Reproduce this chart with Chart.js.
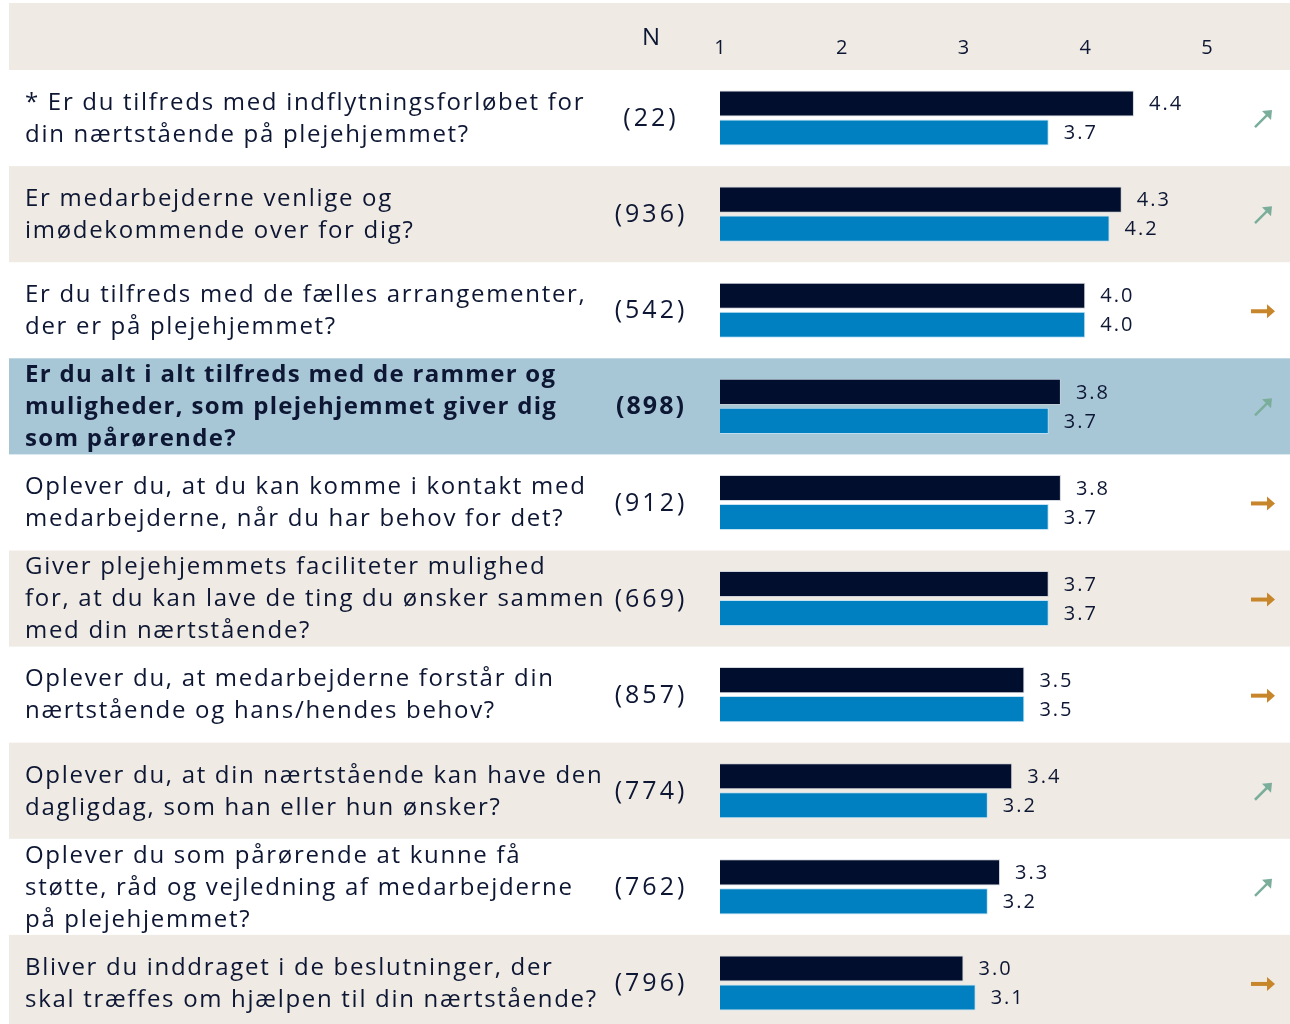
<!DOCTYPE html>
<html>
<head>
<meta charset="utf-8">
<script src="https://cdn.jsdelivr.net/npm/chart.js@4.4.1/dist/chart.umd.min.js"></script>
<style>
html, body { margin: 0; padding: 0; background: #fff; overflow: hidden; }
#wrap { width: 1290px; height: 1031px; position: relative; }
</style>
</head>
<body>
<div id="wrap"><canvas id="myChart"></canvas></div>
<script>
const questions = [
    ["* Er du tilfreds med indflytningsforløbet for", "din nærtstående på plejehjemmet?"],
    ["Er medarbejderne venlige og", "imødekommende over for dig?"],
    ["Er du tilfreds med de fælles arrangementer,", "der er på plejehjemmet?"],
    ["Er du alt i alt tilfreds med de rammer og", "muligheder, som plejehjemmet giver dig", "som pårørende?"],
    ["Oplever du, at du kan komme i kontakt med", "medarbejderne, når du har behov for det?"],
    ["Giver plejehjemmets faciliteter mulighed", "for, at du kan lave de ting du ønsker sammen", "med din nærtstående?"],
    ["Oplever du, at medarbejderne forstår din", "nærtstående og hans/hendes behov?"],
    ["Oplever du, at din nærtstående kan have den", "dagligdag, som han eller hun ønsker?"],
    ["Oplever du som pårørende at kunne få", "støtte, råd og vejledning af medarbejderne", "på plejehjemmet?"],
    ["Bliver du inddraget i de beslutninger, der", "skal træffes om hjælpen til din nærtstående?"]
];
const counts     = [22, 936, 542, 898, 912, 669, 857, 774, 762, 796];
const seriesDark = [4.4, 4.3, 4.0, 3.8, 3.8, 3.7, 3.5, 3.4, 3.3, 3.0];
const seriesBlue = [3.7, 4.2, 4.0, 3.7, 3.7, 3.7, 3.5, 3.2, 3.2, 3.1];
const trends     = ["up", "up", "flat", "up", "flat", "flat", "flat", "up", "up", "flat"];
const highlightRow = 3;
const tickLabels = ["1", "2", "3", "4", "5"];

const NAVY = '#010e2d';
const BLUE = '#0080c0';
const TEXT = '#0d1633';
const BEIGE = '#efebe4';
const HIGHLIGHT = '#a7c7d7';
const GREEN = '#7aae9b';
const ORANGE = '#c8862b';
const FONT = '"Open Sans", sans-serif';

const rowBands = {
    id: 'rowBands',
    beforeDraw(chart) {
        const ctx = chart.ctx;
        const y = chart.scales.y;
        const step = (y.bottom - y.top) / questions.length;
        ctx.save();
        ctx.fillStyle = BEIGE;
        ctx.fillRect(9, 3, chart.width - 9, y.top - 3);
        questions.forEach((_, i) => {
            let col = null;
            if (i === highlightRow) col = HIGHLIGHT;
            else if (i % 2 === 1) col = BEIGE;
            if (!col) return;
            const c = y.getPixelForValue(i);
            ctx.fillStyle = col;
            ctx.fillRect(9, c - step / 2, chart.width - 9, step);
        });
        ctx.restore();
    }
};

function drawArrow(ctx, kind, cx, cy) {
    ctx.save();
    if (kind === 'up') {
        ctx.strokeStyle = GREEN;
        ctx.fillStyle = GREEN;
        ctx.lineWidth = 2.5;
        ctx.beginPath();
        ctx.moveTo(cx - 8, cy + 8);
        ctx.lineTo(cx + 4, cy - 4);
        ctx.stroke();
        ctx.beginPath();
        ctx.moveTo(cx + 9, cy - 9);
        ctx.lineTo(cx - 1, cy - 8);
        ctx.lineTo(cx + 8, cy + 1);
        ctx.closePath();
        ctx.fill();
    } else {
        ctx.strokeStyle = ORANGE;
        ctx.fillStyle = ORANGE;
        ctx.lineWidth = 4;
        ctx.beginPath();
        ctx.moveTo(cx - 12, cy);
        ctx.lineTo(cx + 5, cy);
        ctx.stroke();
        ctx.beginPath();
        ctx.moveTo(cx + 12, cy);
        ctx.lineTo(cx + 4, cy - 7);
        ctx.lineTo(cx + 4, cy + 7);
        ctx.closePath();
        ctx.fill();
    }
    ctx.restore();
}

const rowText = {
    id: 'rowText',
    afterDraw(chart) {
        const ctx = chart.ctx;
        const y = chart.scales.y;
        ctx.save();
        ctx.fillStyle = TEXT;
        ctx.textBaseline = 'middle';

        ctx.font = '24px ' + FONT;
        ctx.letterSpacing = '0px';
        ctx.textAlign = 'center';
        ctx.fillText('N', 651, 38);

        questions.forEach((lines, i) => {
            const c = y.getPixelForValue(i) + 1;
            const bold = i === highlightRow;
            ctx.font = (bold ? '700 ' : '') + '24px ' + FONT;
            ctx.letterSpacing = bold ? '1.3px' : '1.7px';
            ctx.textAlign = 'left';
            const lh = 32;
            const top = c - (lines.length - 1) * lh / 2;
            lines.forEach((t, k) => ctx.fillText(t, 25, top + k * lh));
            ctx.font = (bold ? '700 ' : '') + '25px ' + FONT;
            ctx.letterSpacing = bold ? '2px' : '3px';
            ctx.textAlign = 'center';
            ctx.fillText('(' + counts[i] + ')', 651, c);
            drawArrow(ctx, trends[i], 1263, c);
        });

        ctx.font = '20px ' + FONT;
        ctx.letterSpacing = '2px';
        ctx.textAlign = 'left';
        chart.data.datasets.forEach((ds, d) => {
            chart.getDatasetMeta(d).data.forEach((el, i) => {
                ctx.fillText(ds.data[i].toFixed(1), el.x + 15, el.y + 1);
            });
        });
        ctx.restore();
    }
};

new Chart(document.getElementById('myChart'), {
    type: 'bar',
    data: {
        labels: questions.map((_, i) => i),
        datasets: [{
            data: seriesDark,
            base: 1,
            backgroundColor: NAVY,
            borderColor: 'rgba(200,205,215,0.8)',
            borderWidth: 1,
            categoryPercentage: 0.604,
            barPercentage: 0.9
        }, {
            data: seriesBlue,
            base: 1,
            backgroundColor: BLUE,
            borderColor: 'rgba(190,225,245,0.9)',
            borderWidth: 1,
            categoryPercentage: 0.604,
            barPercentage: 0.9
        }]
    },
    options: {
        indexAxis: 'y',
        responsive: true,
        maintainAspectRatio: false,
        animation: false,
        layout: { padding: { left: 720, right: 83, top: 3, bottom: 0 } },
        plugins: {
            legend: { display: false },
            tooltip: { enabled: false }
        },
        scales: {
            x: {
                type: 'linear',
                position: 'top',
                min: 1,
                max: 5,
                grid: { display: false, drawTicks: false, tickLength: 0 },
                border: { display: false },
                afterFit(scale) { scale.height = 67; },
                ticks: {
                    stepSize: 1,
                    padding: 10,
                    color: TEXT,
                    font: { family: FONT, size: 20 },
                    callback: (v, i) => tickLabels[i]
                }
            },
            y: {
                display: false,
                grid: { display: false }
            }
        }
    },
    plugins: [rowBands, rowText]
});
</script>
</body>
</html>
